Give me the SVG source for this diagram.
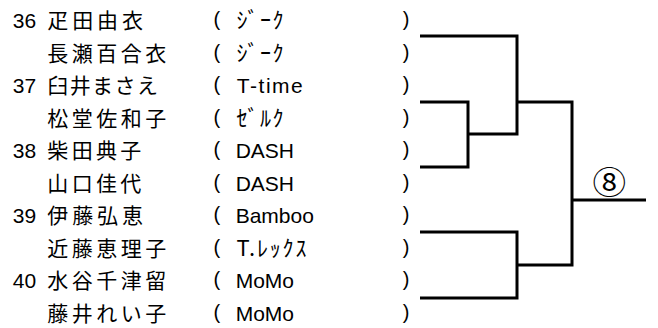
<svg xmlns="http://www.w3.org/2000/svg" width="658" height="328" viewBox="0 0 658 328">
<style>
text{font-family:"Liberation Sans","Noto Sans CJK JP",sans-serif;font-size:21px;fill:#000;}
.j{font-family:"Noto Sans CJK JP","Liberation Sans",sans-serif;}
.k{font-family:"Noto Sans CJK JP","Liberation Sans",sans-serif;font-size:22px;}
.p{font-size:20px;}
.br{fill:none;stroke:#000;stroke-width:3;stroke-linejoin:miter;stroke-linecap:butt;}
</style>
<rect width="658" height="328" fill="#fff"/>
<g id="r1"><text x="12.8" y="28.3">36</text><text class="j" x="47.3" y="28.3" textLength="95.6">疋田由衣</text><text class="p" x="213.6" y="26.3">(</text><text class="k" x="236.5" y="28.3" textLength="47">ｼﾞｰｸ</text><text class="p" x="402.7" y="26.3">)</text></g>
<g id="r2"><text class="j" x="47.3" y="60.8" textLength="119">長瀬百合衣</text><text class="p" x="213.6" y="58.8">(</text><text class="k" x="236.5" y="60.8" textLength="47">ｼﾞｰｸ</text><text class="p" x="402.7" y="58.8">)</text></g>
<g id="r3"><text x="12.8" y="93.3">37</text><text class="j" x="47.3" y="93.3" textLength="110.6">臼井まさえ</text><text class="p" x="213.6" y="91.3">(</text><text x="236.8" y="93.3" textLength="66">T-time</text><text class="p" x="402.7" y="91.3">)</text></g>
<g id="r4"><text class="j" x="47.3" y="125.8" textLength="119">松堂佐和子</text><text class="p" x="213.6" y="123.8">(</text><text class="k" x="236.5" y="125.8" textLength="47">ｾﾞﾙｸ</text><text class="p" x="402.7" y="123.8">)</text></g>
<g id="r5"><text x="12.8" y="158.3">38</text><text class="j" x="47.3" y="158.3" textLength="94">柴田典子</text><text class="p" x="213.6" y="156.3">(</text><text x="235.7" y="158.3">DASH</text><text class="p" x="402.7" y="156.3">)</text></g>
<g id="r6"><text class="j" x="47.3" y="190.8" textLength="94">山口佳代</text><text class="p" x="213.6" y="188.8">(</text><text x="235.7" y="190.8">DASH</text><text class="p" x="402.7" y="188.8">)</text></g>
<g id="r7"><text x="12.8" y="223.3">39</text><text class="j" x="47.3" y="223.3" textLength="95.6">伊藤弘恵</text><text class="p" x="213.6" y="221.3">(</text><text x="235.7" y="223.3">Bamboo</text><text class="p" x="402.7" y="221.3">)</text></g>
<g id="r8"><text class="j" x="47.3" y="255.8" textLength="119">近藤恵理子</text><text class="p" x="213.6" y="253.8">(</text><text class="k" x="236.5" y="255.8" textLength="70">T.ﾚｯｸｽ</text><text class="p" x="402.7" y="253.8">)</text></g>
<g id="r9"><text x="12.8" y="288.3">40</text><text class="j" x="47.3" y="288.3" textLength="119">水谷千津留</text><text class="p" x="213.6" y="286.3">(</text><text x="235.7" y="288.3">MoMo</text><text class="p" x="402.7" y="286.3">)</text></g>
<g id="r10"><text class="j" x="47.3" y="320.8" textLength="119">藤井れい子</text><text class="p" x="213.6" y="318.8">(</text><text x="235.7" y="320.8">MoMo</text><text class="p" x="402.7" y="318.8">)</text></g>
<g id="connectors">
<path class="br" d="M420,36 H517 V134 H468"/>
<path class="br" d="M420,102 H468 V167 H420"/>
<path class="br" d="M517,102 H572 V265 H517"/>
<path class="br" d="M420,232 H517 V298 H420"/>
<path class="br" d="M572,200 H646"/>
</g>
<g id="m8"><text class="j" x="609.3" y="194" text-anchor="middle" style="font-size:32px" transform="translate(609.3,0) scale(1.05,1) translate(-609.3,0)">⑧</text></g>
</svg>
